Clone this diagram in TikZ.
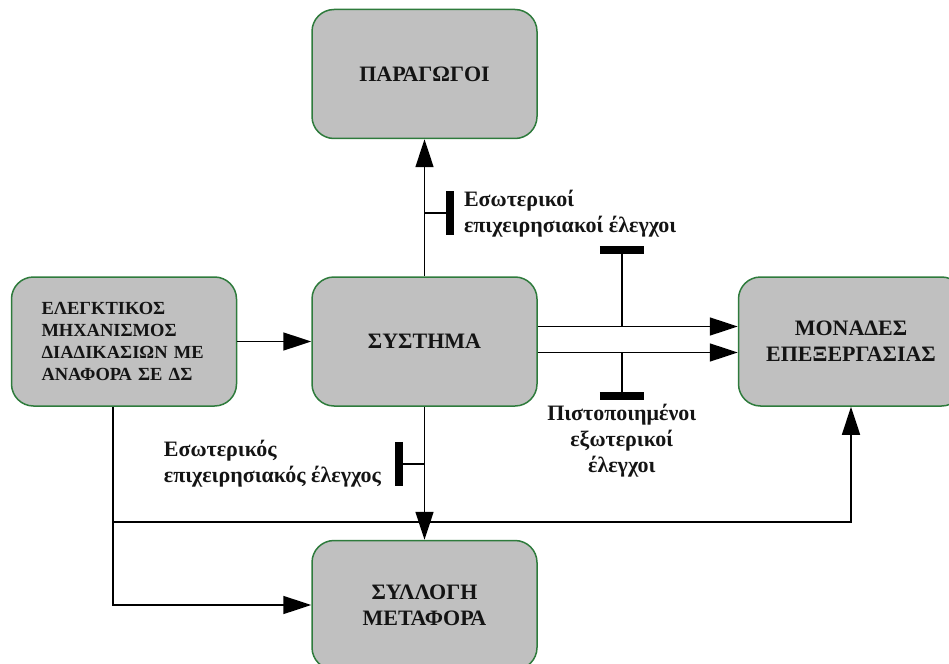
\documentclass[tikz,border=0pt]{standalone}
\usepackage{fontspec}
\setmainfont{Liberation Serif}
\usepackage{tikz}
\usetikzlibrary{positioning,arrows.meta}
\definecolor{boxgreen}{HTML}{2E7B3C}
\definecolor{boxgray}{HTML}{C0C0C0}
\definecolor{inkdark}{HTML}{141414}
\tikzset{
  block/.style={draw=boxgreen, fill=boxgray, line width=1.5pt, rounded corners=22pt,
    minimum width=225pt, minimum height=129pt, align=center, text=inkdark,
    font=\bfseries\fontsize{22}{26}\selectfont},
  arrow/.style={line width=1.6pt, -{Triangle[length=28pt,width=18pt]}},
  link/.style={line width=1.6pt},
  blocker/.style={line width=8pt},
  note/.style={text=inkdark, font=\bfseries\fontsize{22}{26}\selectfont}
}
\begin{document}
\begin{tikzpicture}[x=1pt,y=-1pt]
        \clip (0,0) rectangle (949,663);
        \node[block] (system) at (424.5,341.5) {ΣΥΣΤΗΜΑ};
        \node[block] (producers) [above=137pt of system] {ΠΑΡΑΓΩΓΟΙ};
        \node[block, text width=165pt, align=left, font=\bfseries\fontsize{18.5}{22}\selectfont] (mechanism) [left=74pt of system] {ΕΛΕΓΚΤΙΚΟΣ\\ΜΗΧΑΝΙΣΜΟΣ\\ΔΙΑΔΙΚΑΣΙΩΝ ΜΕ\\ΑΝΑΦΟΡΑ ΣΕ ΔΣ};
        \node[block] (units) [right=200pt of system] {ΜΟΝΑΔΕΣ\\ΕΠΕΞΕΡΓΑΣΙΑΣ};
        \node[block] (transport) [below=133pt of system] {ΣΥΛΛΟΓΗ\\ΜΕΤΑΦΟΡΑ};
        % Main flows
        \draw[arrow] (system.north) -- (producers.south) coordinate[pos=0.46] (stubUp);
        \draw[arrow] (mechanism.east) -- (system.west);
        \draw[arrow] ([yshift=15pt]system.east) -- ([yshift=15pt]units.west) coordinate[pos=0.42] (stubHi);
        \draw[arrow] ([yshift=-11pt]system.east) -- ([yshift=-11pt]units.west) coordinate[pos=0.42] (stubLo);
        \draw[arrow] (system.south) -- (transport.north) coordinate[pos=0.43] (stubDown);
        % Feedback from the control mechanism
        \coordinate (mechDown) at ([xshift=-11pt]mechanism.south);
        \coordinate (busLevel) at (0,522);
        \draw[arrow] (mechDown) |- (transport.west);
        \draw[arrow] (mechDown |- busLevel) -| (units.south);
        % Add in the control bars
        \coordinate (barUp) at ([xshift=25pt]stubUp);
        \draw[link] (stubUp) -- (barUp);
        \draw[blocker] ([yshift=22pt]barUp) -- ([yshift=-22pt]barUp);
        \coordinate (barHi) at ([yshift=77pt]stubHi);
        \draw[link] (stubHi) -- (barHi);
        \draw[blocker] ([xshift=-22pt]barHi) -- ([xshift=22pt]barHi);
        \coordinate (barLo) at ([yshift=-43pt]stubLo);
        \draw[link] (stubLo) -- (barLo);
        \draw[blocker] ([xshift=-22pt]barLo) -- ([xshift=22pt]barLo);
        \coordinate (barDown) at ([xshift=-26pt]stubDown);
        \draw[link] (stubDown) -- (barDown);
        \draw[blocker] ([yshift=22pt]barDown) -- ([yshift=-22pt]barDown);
        % Label the controls
        \node[note, align=left] (internalUp) [right=11pt of barUp] {Εσωτερικοί\\επιχειρησιακοί έλεγχοι};
        \node[note, align=left] (internalDown) [left=14pt of barDown] {Εσωτερικός\\επιχειρησιακός έλεγχος};
        \node[note, align=center] (external) [below=5pt of barLo] {Πιστοποιημένοι\\εξωτερικοί\\έλεγχοι};
    \end{tikzpicture}
\end{document}
